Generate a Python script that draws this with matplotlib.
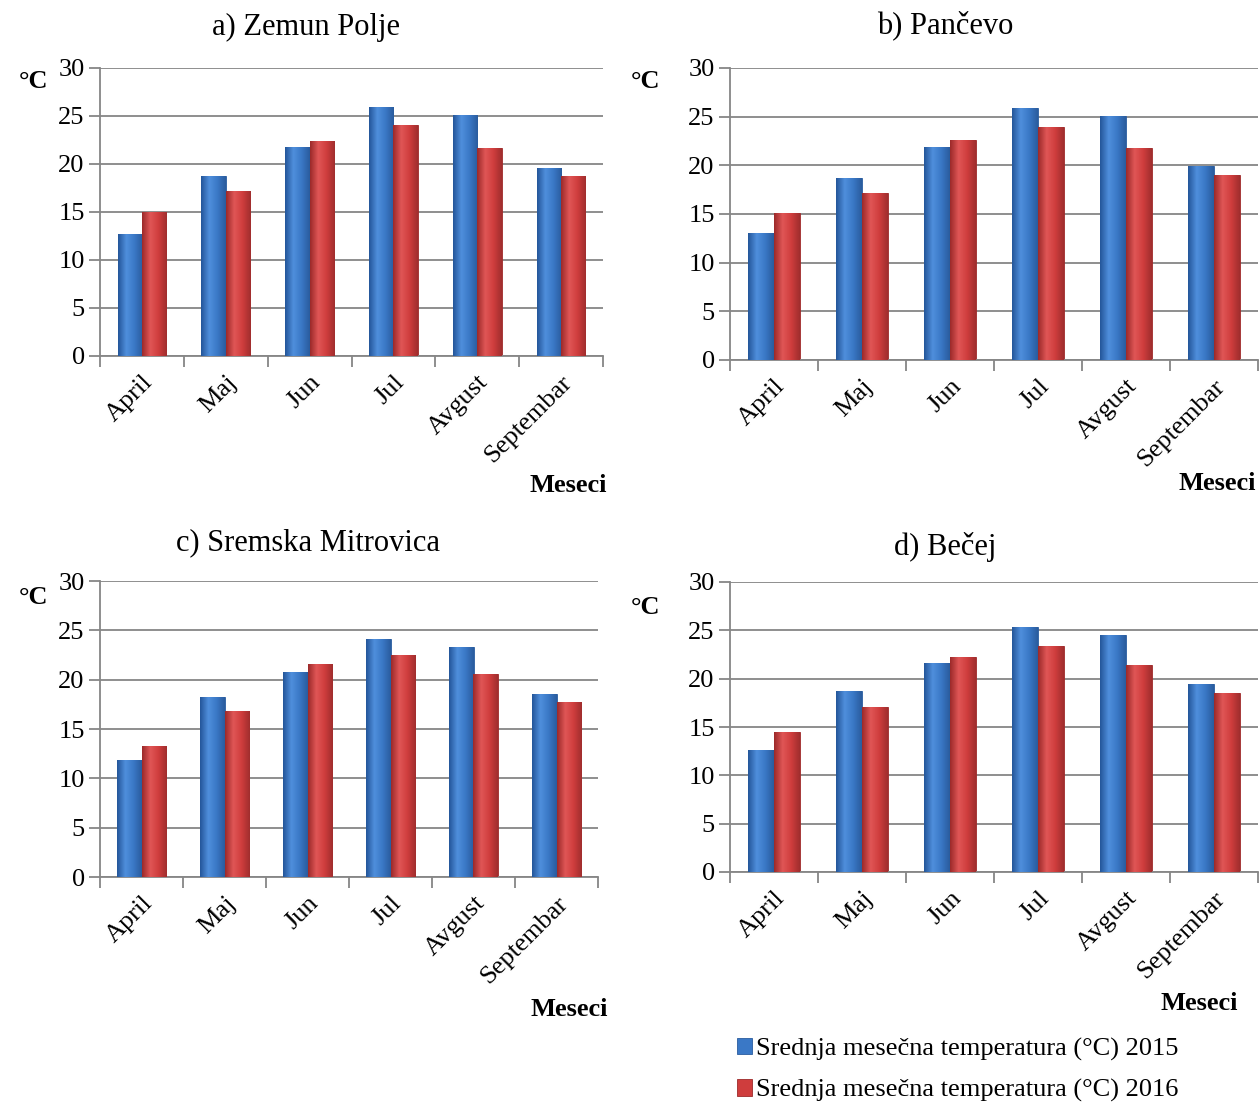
import matplotlib
matplotlib.use('Agg')
import matplotlib.pyplot as plt
import numpy as np
from matplotlib.colors import LinearSegmentedColormap

plt.rcParams['font.family'] = ['Liberation Serif', 'DejaVu Serif']

####################
meseci = ['April', 'Maj', 'Jun', 'Jul', 'Avgust', 'Septembar']
naslovi = ['a) Zemun Polje', 'b) Pančevo', 'c) Sremska Mitrovica', 'd) Bečej']
leg_2015 = 'Srednja mesečna temperatura (°C) 2015'
leg_2016 = 'Srednja mesečna temperatura (°C) 2016'

zemun_2015 = [12.7, 18.8, 21.8, 25.9, 25.1, 19.6]
zemun_2016 = [15.0, 17.2, 22.4, 24.1, 21.7, 18.8]
pancevo_2015 = [13.0, 18.7, 21.9, 25.9, 25.1, 19.9]
pancevo_2016 = [15.1, 17.2, 22.6, 23.9, 21.8, 19.0]
sremska_2015 = [11.9, 18.2, 20.8, 24.1, 23.3, 18.5]
sremska_2016 = [13.3, 16.8, 21.6, 22.5, 20.6, 17.7]
becej_2015 = [12.6, 18.7, 21.6, 25.3, 24.5, 19.4]
becej_2016 = [14.5, 17.1, 22.2, 23.4, 21.4, 18.5]
####################

W, H = 1260, 1104
fig = plt.figure(figsize=(W / 100, H / 100), dpi=100)

def px(x0, y0, x1, y1):
    # pixel box -> figure fraction rect
    return [x0 / W, 1 - y1 / H, (x1 - x0) / W, (y1 - y0) / H]

boxes = [px(100, 68, 603, 356), px(730, 68, 1258, 360),
         px(100, 581, 598, 877), px(730, 582, 1258, 872)]
data = [(zemun_2015, zemun_2016), (pancevo_2015, pancevo_2016),
        (sremska_2015, sremska_2016), (becej_2015, becej_2016)]
title_pos = [(306, 27), (945, 25), (308, 543), (945, 547)]
degc_pos = [(33, 82), (646, 82), (33, 597), (645, 608)]
meseci_pos = [(607, 485), (1256, 483), (608, 1010), (1238, 1003)]

blue_cmap = LinearSegmentedColormap.from_list('b', ['#24569a', '#4f8fdc', '#3a78c6', '#2a5c9e'])
red_cmap = LinearSegmentedColormap.from_list('r', ['#9c2a2a', '#e05656', '#cf3d3d', '#a02e2e'])
grad = np.linspace(0, 1, 64).reshape(1, -1)


def shade(ax, bars, cmap):
    for b in bars:
        x, y = b.get_x(), b.get_y()
        w, h = b.get_width(), b.get_height()
        im = ax.imshow(grad, extent=[x, x + w, y, y + h], cmap=cmap,
                       aspect='auto', zorder=3, interpolation='bilinear')
        im.set_clip_path(b)


x = np.arange(len(meseci))
bw = 0.29
handles = []
for i in range(4):
    ax = fig.add_axes(boxes[i])
    v15, v16 = data[i]
    b1 = ax.bar(x - bw / 2, v15, bw, color='#3a78c6', edgecolor='#2a5c9e', lw=0.6, zorder=2, label=leg_2015)
    b2 = ax.bar(x + bw / 2, v16, bw, color='#cf3d3d', edgecolor='#9c2a2a', lw=0.6, zorder=2, label=leg_2016)
    shade(ax, b1, blue_cmap)
    shade(ax, b2, red_cmap)
    if i == 3:
        handles = [b1, b2]

    ax.set_xlim(-0.5, len(meseci) - 0.5)
    ax.set_ylim(0, 30)
    ax.set_yticks(range(0, 31, 5))
    ax.yaxis.grid(True, color='#868686', lw=1.3, zorder=0)
    ax.set_axisbelow(True)
    for s in ['top', 'right']:
        ax.spines[s].set_visible(False)
    for s in ['left', 'bottom']:
        ax.spines[s].set_color('#868686')
        ax.spines[s].set_linewidth(1.3)
    ax.set_xticks(x)
    ax.set_xticklabels(meseci, rotation=45, ha='right', rotation_mode='anchor', fontsize=19)
    ax.set_xticks(np.arange(-0.5, len(meseci)), minor=True)
    ax.tick_params(axis='x', which='major', length=0, pad=11)
    ax.tick_params(axis='x', which='minor', length=8, color='#868686', width=1.3)
    ax.tick_params(axis='y', length=8, color='#868686', width=1.3, labelsize=19, pad=3)

    tx, ty = title_pos[i]
    fig.text(tx / W, 1 - ty / H, naslovi[i], ha='center', va='center', fontsize=22)
    cx, cy = degc_pos[i]
    fig.text(cx / W, 1 - cy / H, '°C', ha='center', va='center', fontsize=19, fontweight='bold')
    mx, my = meseci_pos[i]
    fig.text(mx / W, 1 - my / H, 'Meseci', ha='right', va='center', fontsize=19, fontweight='bold')

fig.legend(handles=handles, loc='upper left', bbox_to_anchor=(726 / W, 1 - 1027 / H),
           frameon=False, fontsize=19, handlelength=0.6, handleheight=0.6,
           handletextpad=0.15, labelspacing=0.7, borderaxespad=0)

plt.savefig('out.png', dpi=100)
